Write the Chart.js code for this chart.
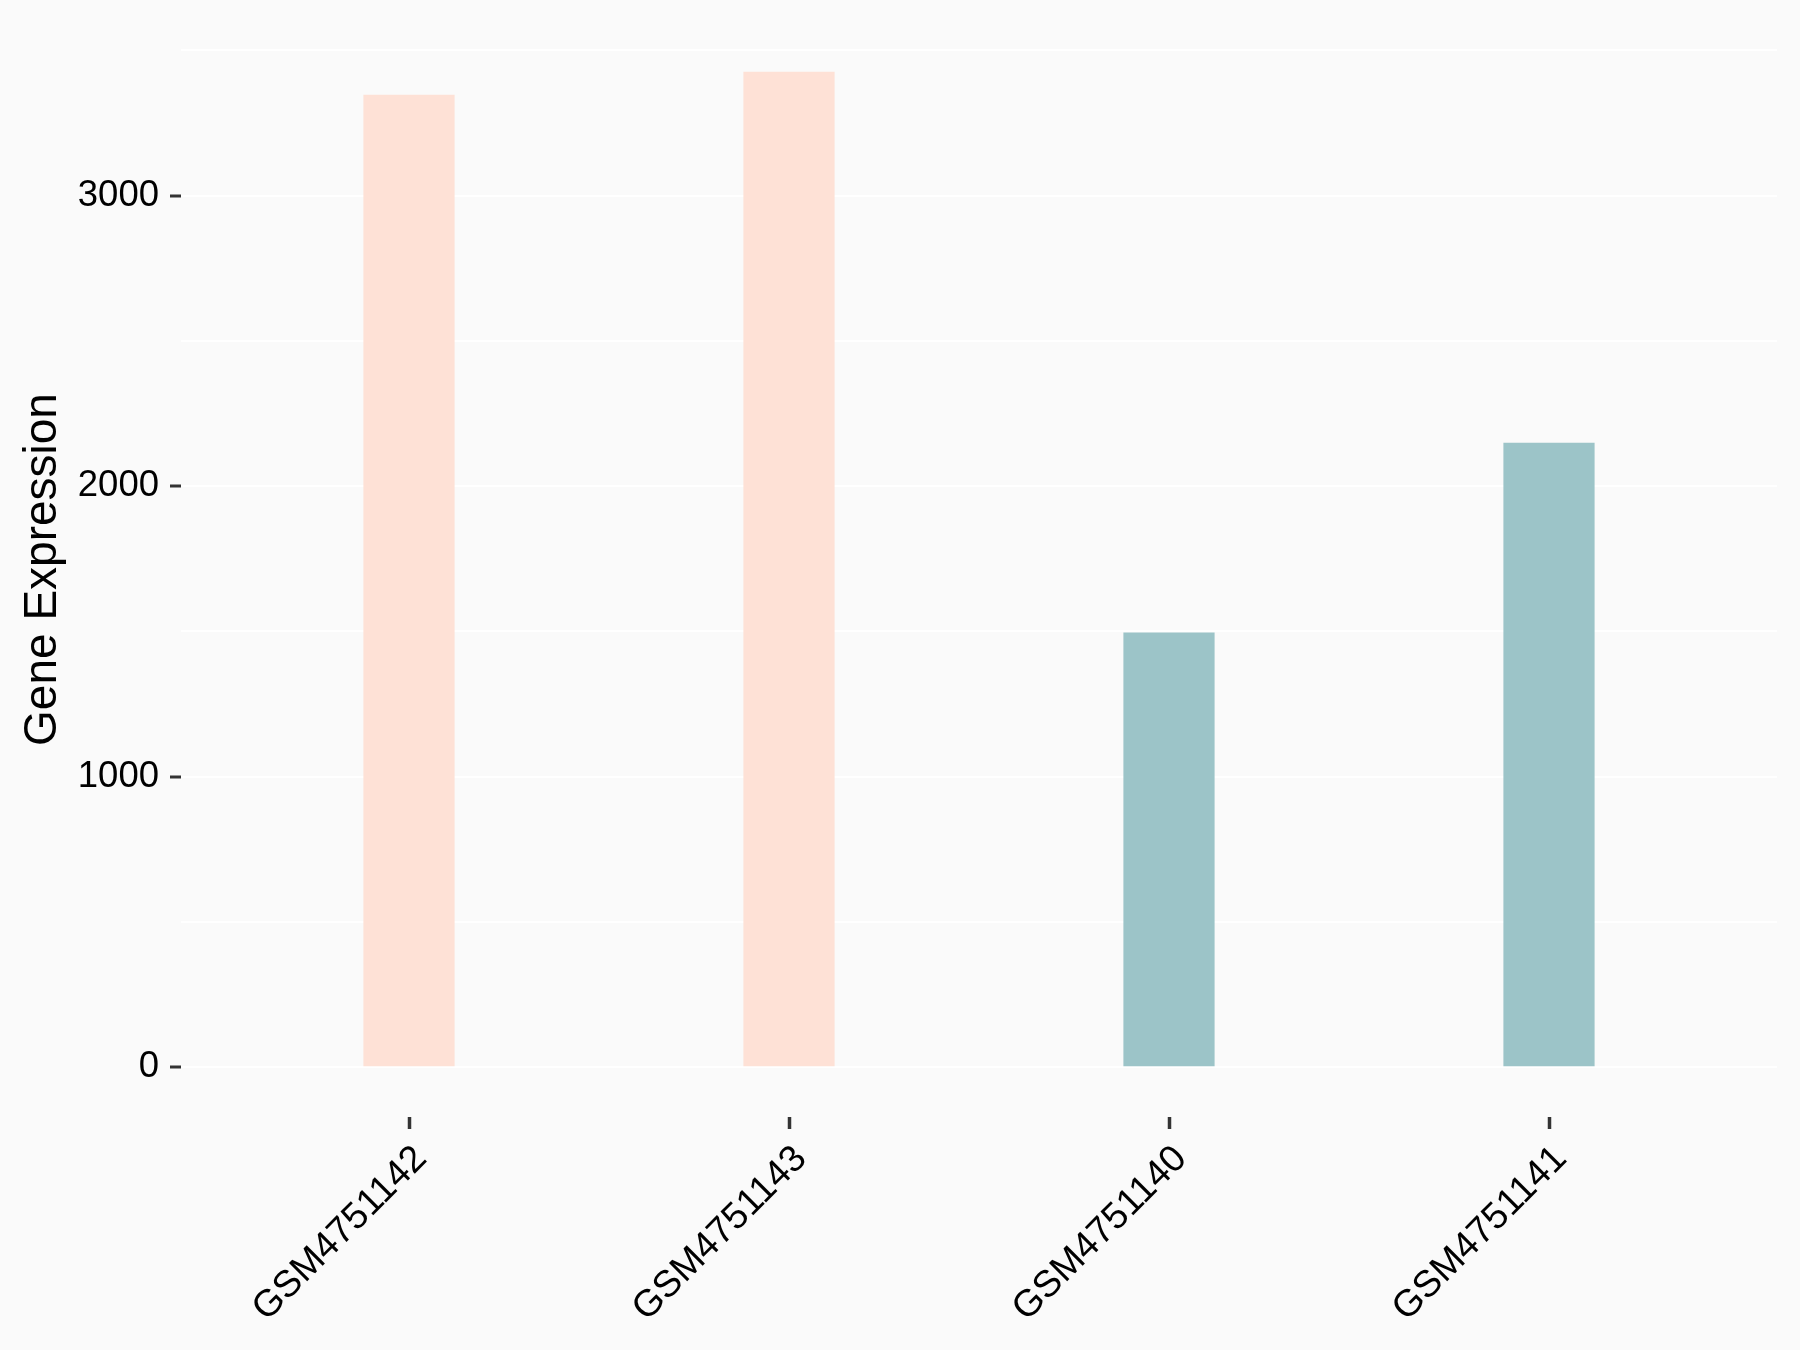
<!DOCTYPE html>
<html>
<head>
<meta charset="utf-8">
<script src="https://cdn.jsdelivr.net/npm/chart.js@4/dist/chart.umd.min.js"></script>
<style>
  html, body { margin: 0; padding: 0; background: #FAFAFA; }
  canvas { display: block; }
</style>
</head>
<body>
<canvas id="expr" width="1800" height="1350"></canvas>
<script>
// samples in plotting order
const samples = ['GSM4751142', 'GSM4751143', 'GSM4751140', 'GSM4751141'];
const expression = [3347, 3426, 1496, 2149];
const barColors = ['#FEE1D6', '#FEE1D6', '#9CC4C8', '#9CC4C8'];
const yTicks = [0, 500, 1000, 1500, 2000, 2500, 3000, 3500];

const font = '"Liberation Sans", Arial, sans-serif';

const bgPlugin = {
  id: 'bg',
  beforeDraw(chart) {
    const c = chart.ctx;
    c.save();
    c.fillStyle = '#FAFAFA';
    c.fillRect(0, 0, chart.width, chart.height);
    c.restore();
  }
};

new Chart(document.getElementById('expr'), {
  type: 'bar',
  data: {
    datasets: [{
      data: samples.map((s, i) => ({ x: i + 1, y: expression[i] })),
      backgroundColor: barColors,
      borderWidth: 0,
      barPercentage: 0.24,
      categoryPercentage: 1
    }]
  },
  options: {
    responsive: false,
    animation: false,
    devicePixelRatio: 1,
    layout: { padding: { left: 0, right: 23, top: 22, bottom: 0 } },
    plugins: { legend: { display: false }, tooltip: { enabled: false } },
    scales: {
      x: {
        type: 'linear',
        min: 0.4,
        max: 4.6,
        offset: false,
        afterBuildTicks: s => { s.ticks = samples.map((_, i) => ({ value: i + 1 })); },
        afterFit: s => { s.height = 233; s.paddingLeft = 0; s.paddingRight = 0; },
        border: { display: false },
        grid: { offset: false, drawOnChartArea: false, tickColor: '#333333', tickWidth: 3.5, tickLength: 12 },
        ticks: {
          autoSkip: false,
          maxRotation: 45,
          minRotation: 45,
          color: '#000000',
          font: { family: font, size: 37.5 },
          padding: 8,
          labelOffset: 12,
          callback: v => samples[v - 1]
        }
      },
      y: {
        min: -171.3,
        max: 3597.3,
        afterBuildTicks: s => { s.ticks = yTicks.map(v => ({ value: v })); },
        afterFit: s => { s.width = 181; s.paddingTop = 0; s.paddingBottom = 0; },
        border: { display: false },
        grid: {
          color: '#FFFFFF',
          lineWidth: 2,
          tickLength: 11,
          tickWidth: 3,
          tickColor: ctx => (ctx.tick && ctx.tick.value % 1000 === 0) ? '#333333' : 'rgba(0,0,0,0)'
        },
        ticks: {
          color: '#000000',
          font: { family: font, size: 36.5 },
          padding: 11,
          callback: v => (v % 1000 === 0 ? String(v) : '')
        },
        title: {
          display: true,
          text: 'Gene Expression',
          color: '#000000',
          font: { family: font, size: 46 },
          padding: { top: 16, bottom: 0 }
        }
      }
    }
  },
  plugins: [bgPlugin]
});
</script>
</body>
</html>
